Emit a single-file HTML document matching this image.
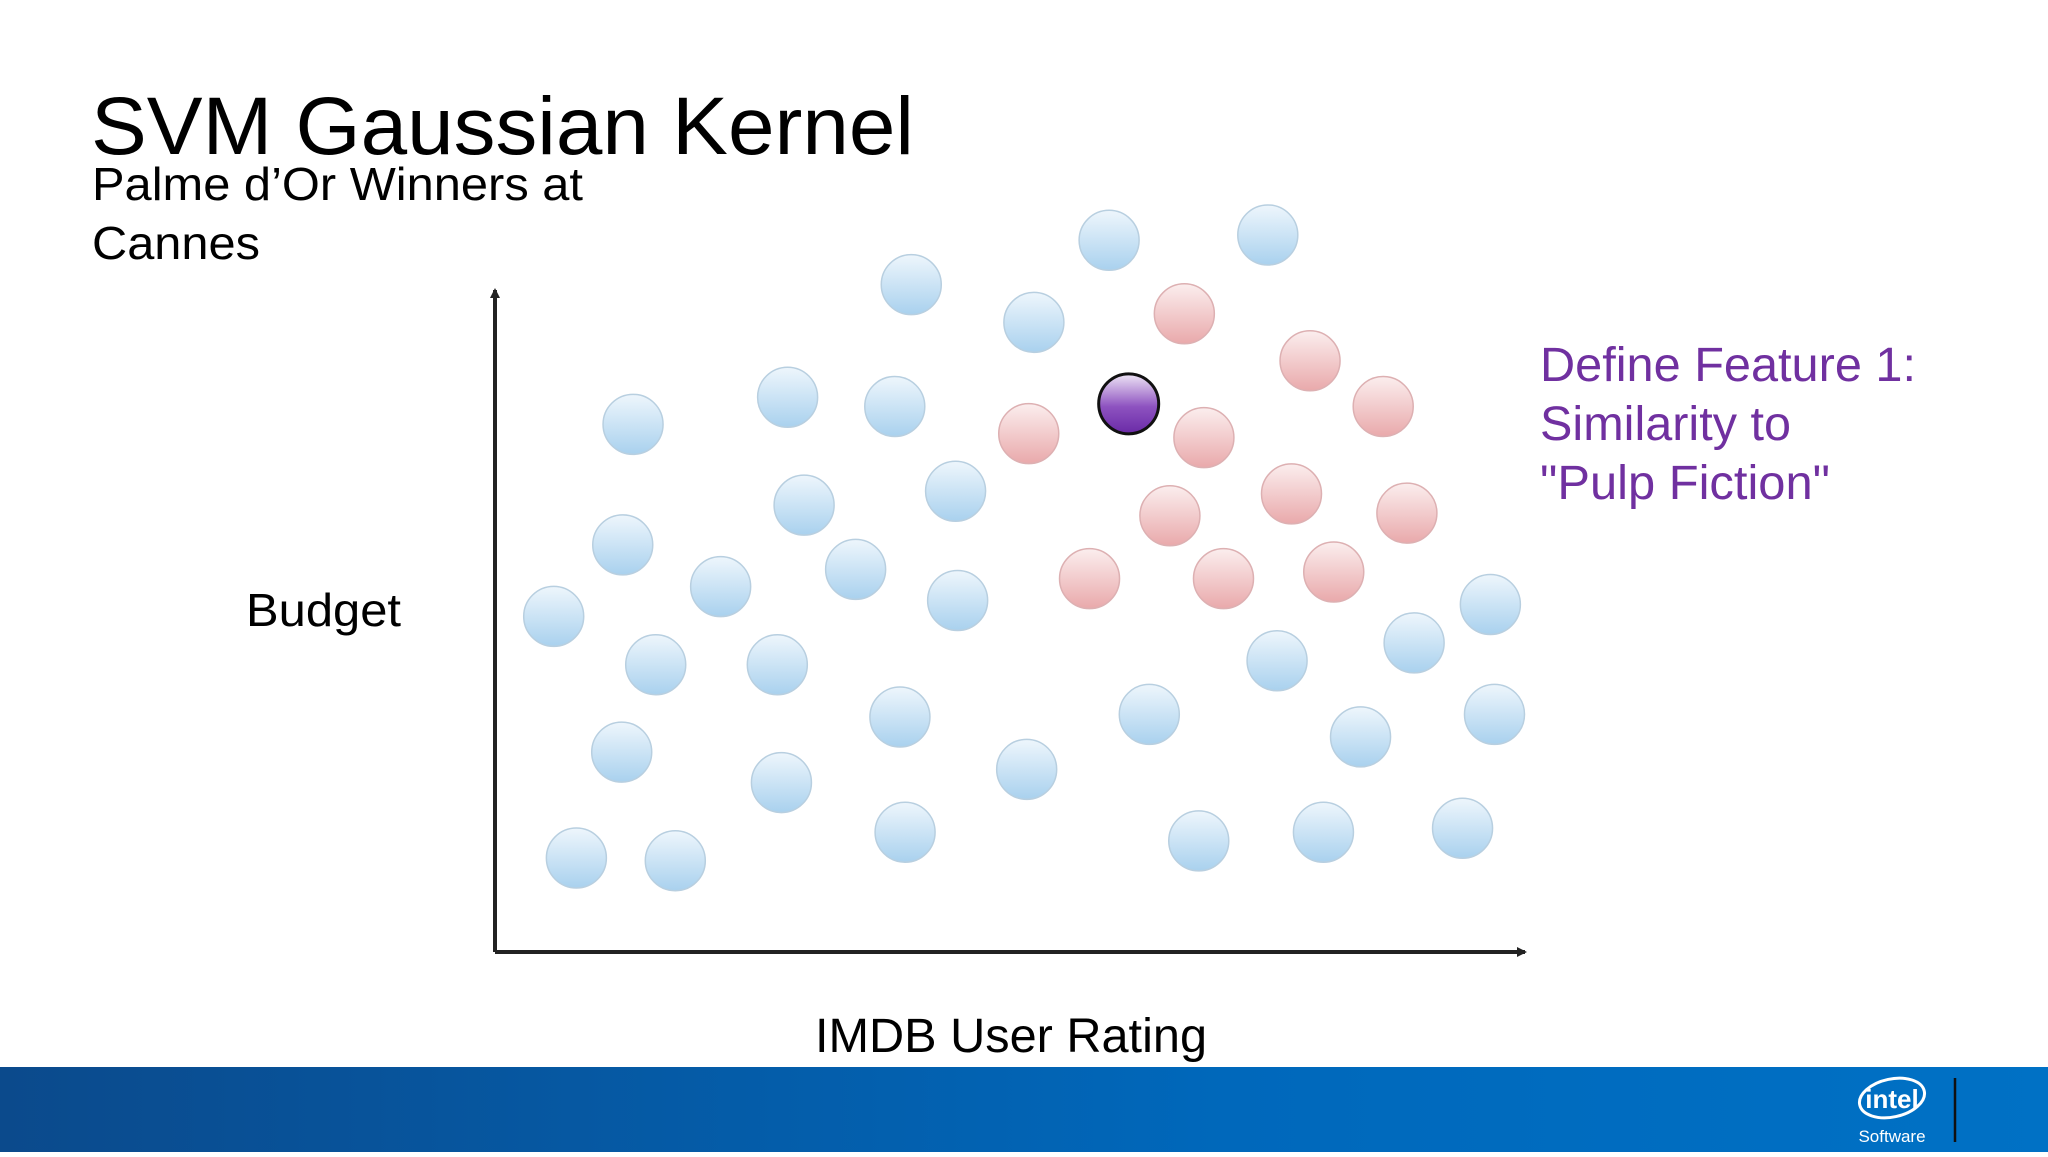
<!DOCTYPE html>
<html><head><meta charset="utf-8">
<style>
html,body{margin:0;padding:0;background:#fff;}
body{width:2048px;height:1152px;overflow:hidden;font-family:"Liberation Sans",sans-serif;}
</style></head>
<body>
<svg id="chart" width="2048" height="1152" viewBox="0 0 2048 1152" xmlns="http://www.w3.org/2000/svg">
<defs>
<linearGradient id="gBlue" x1="0" y1="0" x2="0" y2="1">
<stop offset="0" stop-color="#eef6fc"/><stop offset="1" stop-color="#a9d1ee"/></linearGradient>
<linearGradient id="gRed" x1="0" y1="0" x2="0" y2="1">
<stop offset="0" stop-color="#fbeeee"/><stop offset="1" stop-color="#e9a9ab"/></linearGradient>
<linearGradient id="gPur" x1="0" y1="0" x2="0" y2="1">
<stop offset="0" stop-color="#efe6f6"/><stop offset="0.55" stop-color="#8d52c0"/><stop offset="1" stop-color="#6a2aa6"/></linearGradient>
<linearGradient id="gFoot" x1="0" y1="0" x2="1" y2="0">
<stop offset="0" stop-color="#0b4a8c"/><stop offset="0.6" stop-color="#0068bb"/><stop offset="1" stop-color="#0071c5"/></linearGradient>
<marker id="arr" markerWidth="10" markerHeight="10" refX="8" refY="5" orient="auto" markerUnits="userSpaceOnUse">
<path d="M0,0 L10,5 L0,10 z" fill="#222"/></marker>
</defs>
<text x="91" y="154" font-size="82" textLength="823" lengthAdjust="spacingAndGlyphs" fill="#000">SVM Gaussian Kernel</text>
<text x="92" y="200" font-size="46" textLength="491" lengthAdjust="spacingAndGlyphs" fill="#000">Palme d’Or Winners at</text>
<text x="92" y="259" font-size="46" textLength="168" lengthAdjust="spacingAndGlyphs" fill="#000">Cannes</text>
<line x1="495" y1="952" x2="495" y2="290" stroke="#222" stroke-width="4" marker-end="url(#arr)"/>
<line x1="495" y1="952" x2="1525" y2="952" stroke="#222" stroke-width="4" marker-end="url(#arr)"/>
<text x="246" y="626" font-size="46" textLength="155" lengthAdjust="spacingAndGlyphs" fill="#000">Budget</text>
<text x="815" y="1052" font-size="48" textLength="392" lengthAdjust="spacingAndGlyphs" fill="#000">IMDB User Rating</text>
<g fill="#7030a0" font-size="48">
<text x="1540" y="381" textLength="376" lengthAdjust="spacingAndGlyphs">Define Feature 1:</text>
<text x="1540" y="440" textLength="251" lengthAdjust="spacingAndGlyphs">Similarity to</text>
<text x="1540" y="499" textLength="290" lengthAdjust="spacingAndGlyphs">"Pulp Fiction"</text>
</g>
<g id="points"></g>
<rect x="0" y="1067" width="2048" height="85" fill="url(#gFoot)"/>
<g>
<ellipse cx="1892" cy="1098" rx="33" ry="19" fill="none" stroke="#fff" stroke-width="3" transform="rotate(-12 1892 1098)"/>
<text x="1892" y="1108" text-anchor="middle" font-size="26" font-weight="bold" fill="#fff">intel</text>
<text x="1892" y="1142" text-anchor="middle" font-size="17" fill="#fff">Software</text>
</g>
<line x1="1955" y1="1078" x2="1955" y2="1142" stroke="#111" stroke-width="2.5"/>
</svg>
<script>
const blueRating=[4.04,5.96,7.50,5.23,1.34,2.84,3.88,3.00,4.47,1.24,2.19,3.50,4.49,0.57,1.56,2.74,3.93,1.23,2.78,5.16,0.79,1.75,3.98,6.35,7.59,8.92,9.66,8.40,9.70,6.83,8.04,9.39];
const blueBudget=[100.8,107.5,108.3,95.1,79.7,83.8,82.4,67.5,69.6,61.5,55.2,57.8,53.1,50.7,43.4,43.4,35.5,30.2,25.6,27.6,14.2,13.8,18.1,35.9,44.0,46.7,52.5,32.5,35.9,16.8,18.1,18.7];
const redRating=[6.69,7.91,8.62,5.18,6.88,7.73,6.55,8.85,5.77,7.07,8.14];
const redBudget=[96.4,89.3,82.4,78.3,77.7,69.2,65.9,66.3,56.4,56.4,57.4];
const pulpRating=[6.15];
const pulpBudget=[82.8];
const xScale=v=>(379+v*78.9)*1.306;
const yScale=v=>(729-v*5.07)*1.306;
const NS="http://www.w3.org/2000/svg";
const g=document.getElementById('points');
function draw(xs,ys,fill,stroke,sw,name){
  for(let i=0;i<xs.length;i++){
    const c=document.createElementNS(NS,'circle');
    c.setAttribute('cx',xScale(xs[i]));
    c.setAttribute('cy',yScale(ys[i]));
    c.setAttribute('r',30);
    c.setAttribute('fill',fill);
    c.setAttribute('stroke',stroke);
    c.setAttribute('stroke-width',sw);
    
    
    g.appendChild(c);
  }
}
draw(blueRating,blueBudget,'url(#gBlue)','#b8cfe0',1.5,'blue-point');
draw(redRating,redBudget,'url(#gRed)','#ddb0b2',1.5,'red-point');
draw(pulpRating,pulpBudget,'url(#gPur)','#111',3,'pulp-fiction-point');
</script>
</body></html>
